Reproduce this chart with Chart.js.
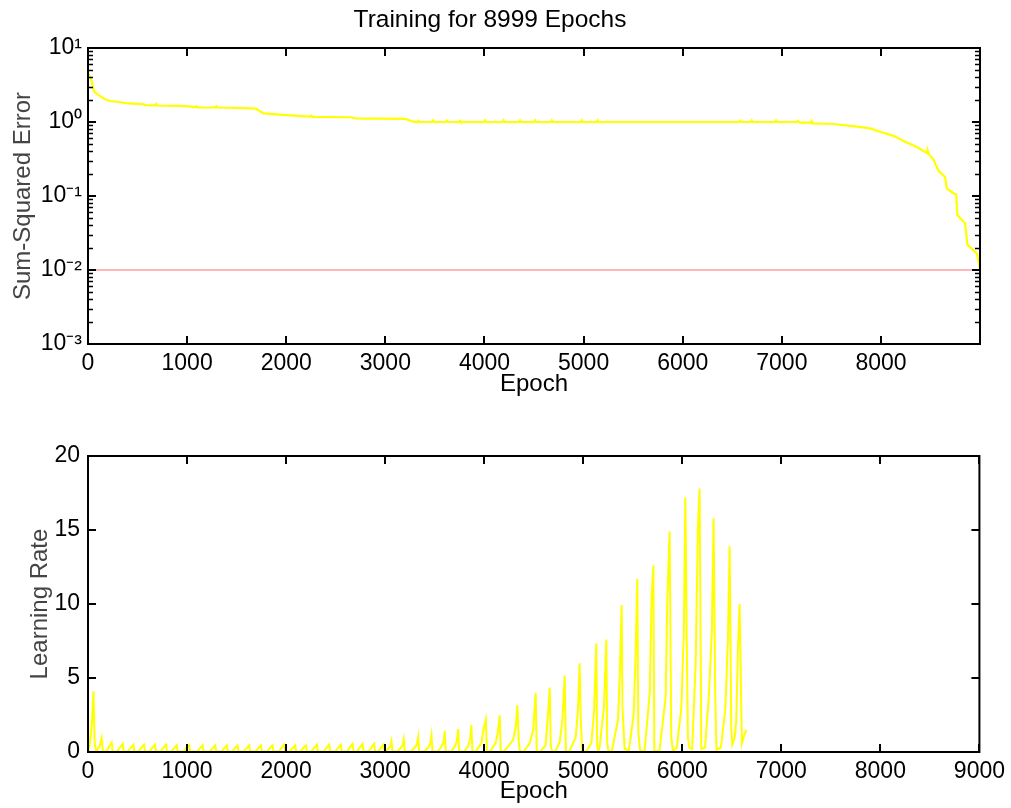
<!DOCTYPE html>
<html>
<head>
<meta charset="utf-8">
<title>Training for 8999 Epochs</title>
<script src="https://cdn.jsdelivr.net/npm/chart.js@4.4.0/dist/chart.umd.min.js"></script>
<style>
    body { margin: 0; background: #fff; }
    #wrap { position: relative; width: 1011px; height: 808px; }
    canvas { position: absolute; left: 0; }
</style>
</head>
<body>
<div id="wrap">
    <canvas id="errChart" width="1011" height="410" style="top:0px"></canvas>
    <canvas id="lrChart" width="1011" height="398" style="top:410px"></canvas>
</div>
<script>
// Sum-squared error per epoch
var sseEpoch = [0, 15, 40, 60, 90, 130, 170, 220, 330, 400, 560, 580, 680, 690, 700, 1000, 1080, 1095, 1110,
    1285, 1295, 1305, 1670, 1700, 1770, 1970, 2000, 2240, 2255, 2270, 2650, 2700, 3200, 3283,
    3323, 3333, 3343, 3474, 3484, 3494, 3609, 3619, 3629, 3743, 3753, 3763, 3995, 4005, 4015,
    4181, 4191, 4201, 4349, 4359, 4369, 4500, 4510, 4520, 4669, 4679, 4689, 4971, 4981, 4991,
    5132, 5142, 5152, 6569, 6579, 6589, 6687, 6697, 6707, 6932, 6942, 6952, 7151, 7161, 7184,
    7292, 7302, 7310, 7520, 7756, 7890, 7991, 8126, 8244, 8362, 8463, 8470, 8480, 8530, 8580,
    8647, 8664, 8731, 8758, 8771, 8849, 8872, 8967, 8999];
var sseValue = [4.6, 4.2, 3.5, 2.6, 2.4, 2.2, 2.05, 1.92, 1.85, 1.78, 1.74, 1.69, 1.68, 1.75, 1.67, 1.64, 1.58, 1.64, 1.58,
    1.57, 1.63, 1.57, 1.53, 1.5, 1.31, 1.25, 1.24, 1.18, 1.22, 1.17, 1.16, 1.12, 1.1, 1.01,
    1.0, 1.04, 1.0, 1.0, 1.05, 1.0, 1.0, 1.04, 1.0, 1.0, 1.04, 1.0, 1.0, 1.05, 1.0,
    1.0, 1.05, 1.0, 1.0, 1.05, 1.0, 1.0, 1.05, 1.0, 1.0, 1.05, 1.0, 1.0, 1.05, 1.0,
    1.0, 1.05, 1.0, 1.0, 1.04, 1.0, 1.0, 1.05, 1.0, 1.0, 1.05, 1.0, 1.0, 1.04, 0.98,
    0.98, 1.03, 0.96, 0.94, 0.865, 0.82, 0.74, 0.65, 0.54, 0.46, 0.38, 0.42, 0.37, 0.31, 0.22,
    0.18, 0.127, 0.109, 0.105, 0.055, 0.043, 0.022, 0.0167, 0.0104];

// error goal
var goalEpoch = [0, 8999];
var goalValue = [0.01, 0.01];

// Learning rate per epoch
var lrEpoch = [0, 15, 38, 55, 68, 85, 118, 138, 150,
    184, 214, 239, 249,  295, 325, 350, 360,  403, 433, 458, 468,  510, 540, 565, 575,
    621, 651, 676, 686,  732, 762, 787, 797,  840, 870, 895, 905,  967, 997, 1022, 1032,
    1102, 1132, 1157, 1167,  1230, 1260, 1285, 1295,  1347, 1377, 1402, 1412,  1455, 1485, 1510, 1520,
    1573, 1603, 1628, 1638,  1691, 1721, 1746, 1756,  1808, 1838, 1863, 1873,  1926, 1956, 1981, 1991,
    2037, 2067, 2092, 2102,  2145, 2175, 2200, 2210,  2256, 2286, 2311, 2321,  2380, 2410, 2435, 2445,
    2498, 2528, 2553, 2563,  2616, 2646, 2671, 2681,  2717, 2747, 2772, 2782,  2834, 2864, 2889, 2899,
    2930, 2960, 2985, 2995,  3030, 3052, 3064, 3074,
    3120, 3155, 3176, 3188, 3198,  3260, 3300, 3320, 3333, 3343,  3395, 3435, 3455, 3468, 3478,
    3530, 3568, 3590, 3602, 3612,  3665, 3703, 3725, 3737, 3747,  3800, 3838, 3859, 3871, 3881,
    3915, 3972, 3995, 4016, 4028,  4060, 4115, 4140, 4157, 4167,
    4200, 4292, 4319, 4335, 4349, 4360,  4400, 4460, 4495, 4520, 4530,
    4570, 4620, 4645, 4662, 4672, 4685,  4720, 4763, 4790, 4813, 4825,
    4860, 4924, 4947, 4964, 4975, 4990,  5030, 5082, 5109, 5132, 5140, 5150,
    5165, 5183, 5210, 5233, 5242, 5255,  5290, 5317, 5351, 5368, 5388, 5396, 5418,
    5460, 5509, 5529, 5546, 5556, 5575,  5620, 5671, 5691, 5708, 5718,
    5770, 5832, 5849, 5872, 5889, 5906,  5945, 5990, 6016, 6031, 6047, 6057, 6070,
    6100, 6135, 6158, 6175, 6192,  6230, 6269, 6299, 6316, 6333, 6345,
    6390, 6434, 6461, 6478, 6495, 6505,  6530, 6545, 6562, 6579, 6602, 6620, 6646];
var lrRate = [0.95, 0.45, 1.8, 4.1, 0.5, 0.05, 0.4, 0.95, 0.05,
    0.04, 0.38, 0.65, 0.04,  0.04, 0.33, 0.55, 0.04,  0.04, 0.3, 0.5, 0.04,  0.04, 0.3, 0.5, 0.04,
    0.04, 0.3, 0.5, 0.04,  0.04, 0.3, 0.5, 0.04,  0.04, 0.27, 0.45, 0.04,  0.04, 0.27, 0.45, 0.04,
    0.04, 0.27, 0.45, 0.04,  0.04, 0.27, 0.45, 0.04,  0.04, 0.27, 0.45, 0.04,  0.04, 0.27, 0.45, 0.04,
    0.04, 0.27, 0.45, 0.04,  0.04, 0.27, 0.45, 0.04,  0.04, 0.27, 0.45, 0.04,  0.04, 0.3, 0.5, 0.04,
    0.04, 0.27, 0.45, 0.04,  0.04, 0.27, 0.45, 0.04,  0.04, 0.3, 0.5, 0.04,  0.04, 0.3, 0.5, 0.04,
    0.04, 0.3, 0.5, 0.04,  0.04, 0.33, 0.55, 0.04,  0.04, 0.33, 0.55, 0.04,  0.04, 0.33, 0.55, 0.04,
    0.04, 0.3, 0.5, 0.04,  0.2, 0.4, 0.75, 0.04,
    0.04, 0.25, 0.45, 0.86, 0.04,  0.04, 0.3, 0.5, 1.0, 0.04,  0.04, 0.3, 0.55, 1.13, 0.04,
    0.04, 0.35, 0.7, 1.42, 0.04,  0.04, 0.35, 0.75, 1.55, 0.04,  0.04, 0.4, 0.9, 1.82, 0.04,
    0.04, 0.6, 1.6, 2.2, 0.04,  0.04, 0.6, 1.4, 2.48, 0.04,
    0.04, 0.8, 1.7, 3.15, 0.7, 0.04,  0.04, 0.6, 1.5, 4.0, 0.04,
    0.04, 0.45, 2.6, 4.35, 0.45, 0.04,  0.04, 0.7, 2.16, 5.16, 0.04,
    0.04, 1.0, 2.84, 6.0, 2.36, 0.04,  0.04, 0.6, 2.7, 7.34, 0.5, 0.04,
    0.3, 1.47, 3.06, 7.6, 0.6, 0.04,  0.1, 1.03, 2.16, 5.1, 9.93, 3.06, 0.2,
    0.1, 2.5, 6.67, 11.7, 1.35, 0.04,  0.1, 3.96, 10.5, 12.6, 0.04,
    0.1, 3.7, 10.2, 14.9, 1.0, 0.04,  0.3, 2.95, 8.1, 17.2, 6.4, 1.0, 0.3,
    0.2, 5.9, 15.2, 17.8, 0.2,  0.3, 3.85, 8.2, 15.8, 3.8, 0.15,
    0.3, 2.84, 7.57, 13.9, 1.6, 0.5,  1.0, 2.16, 6.9, 10.0, 0.58, 1.0, 1.5];

// tick values and labels
var epochTicksTop = [0, 1000, 2000, 3000, 4000, 5000, 6000, 7000, 8000];
var epochTicksBottom = [0, 1000, 2000, 3000, 4000, 5000, 6000, 7000, 8000, 9000];
var sseTicks = [0.001, 0.01, 0.1, 1, 10];
var sseTickLabels = ['10\u207B\u00B3', '10\u207B\u00B2', '10\u207B\u00B9', '10\u2070', '10\u00B9'];
var lrTicks = [0, 5, 10, 15, 20];

Chart.defaults.font.family = "'Liberation Sans', Arial, Helvetica, sans-serif";
Chart.defaults.color = '#000';

function toPoints(xs, ys) {
    return xs.map(function(x, i) { return { x: x, y: ys[i] }; });
}

// plain numbers, no thousands separator
function plainLabel(v) {
    return String(v);
}

// draws the black box round the plot with inward ticks on all four sides
var boxTicks = {
    id: 'boxTicks',
    afterDatasetsDraw: function(chart) {
        var ctx = chart.ctx, a = chart.chartArea;
        var xs = chart.scales.x, ys = chart.scales.y;
        ctx.save();
        ctx.strokeStyle = '#000';
        ctx.lineWidth = 2;
        ctx.beginPath();
        xs.ticks.forEach(function(t) {
            var px = Math.round(xs.getPixelForValue(t.value));
            ctx.moveTo(px, a.bottom); ctx.lineTo(px, a.bottom - 8);
            ctx.moveTo(px, a.top); ctx.lineTo(px, a.top + 8);
        });
        ys.ticks.forEach(function(t) {
            var py = Math.round(ys.getPixelForValue(t.value));
            ctx.moveTo(a.left, py); ctx.lineTo(a.left + 8, py);
            ctx.moveTo(a.right, py); ctx.lineTo(a.right - 8, py);
        });
        ctx.stroke();
        // minor ticks for the log axis
        if (ys.type === 'logarithmic') {
            ctx.lineWidth = 1.5;
            ctx.beginPath();
            for (var d = 0; d < sseTicks.length - 1; d++) {
                for (var k = 2; k <= 9; k++) {
                    var py = Math.round(ys.getPixelForValue(sseTicks[d] * k)) + 0.5;
                    ctx.moveTo(a.left, py); ctx.lineTo(a.left + 5, py);
                    ctx.moveTo(a.right, py); ctx.lineTo(a.right - 5, py);
                }
            }
            ctx.stroke();
        }
        ctx.lineWidth = 2;
        ctx.strokeRect(a.left, a.top, a.right - a.left, a.bottom - a.top);
        ctx.restore();
    }
};

// Top chart: error
var errCtx = document.getElementById('errChart').getContext('2d');
var errChart = new Chart(errCtx, {
    type: 'line',
    data: {
        datasets: [{
            label: 'Goal',
            data: toPoints(goalEpoch, goalValue),
            borderColor: '#ffb8b8',
            borderWidth: 2,
            pointRadius: 0
        }, {
            label: 'Sum-Squared Error',
            data: toPoints(sseEpoch, sseValue),
            borderColor: '#ffff00',
            borderWidth: 2.2,
            pointRadius: 0
        }]
    },
    options: {
        responsive: false,
        animation: false,
        layout: { padding: { left: 0, right: 31, top: 0, bottom: 0 } },
        plugins: {
            legend: { display: false },
            tooltip: { enabled: false },
            title: {
                display: true,
                text: 'Training for 8999 Epochs',
                color: '#000',
                font: { size: 24.5, weight: 'normal' },
                padding: { top: 6, bottom: 12.6 }
            }
        },
        scales: {
            x: {
                type: 'linear', min: 0, max: 8999,
                afterBuildTicks: function(s) { s.ticks = epochTicksTop.map(function(v) { return { value: v }; }); },
                afterFit: function(s) { s.height = 66; },
                grid: { display: false, drawTicks: false },
                border: { display: false },
                ticks: { font: { size: 23 }, color: '#000', padding: 6, maxRotation: 0, autoSkip: false, callback: plainLabel },
                title: { display: true, text: 'Epoch', color: '#000', font: { size: 24 }, padding: { top: 0, bottom: 11.6 } }
            },
            y: {
                type: 'logarithmic', min: 0.001, max: 10,
                afterBuildTicks: function(s) { s.ticks = sseTicks.map(function(v) { return { value: v }; }); },
                afterFit: function(s) { s.width = 88; },
                grid: { display: false, drawTicks: false },
                border: { display: false },
                ticks: {
                    font: { size: 23 }, color: '#000', padding: 6, autoSkip: false,
                    callback: function(v, i) { return sseTickLabels[i]; }
                },
                title: { display: true, text: 'Sum-Squared Error', color: '#444', font: { size: 24 }, padding: { top: 8.6, bottom: 0 } }
            }
        }
    },
    plugins: [boxTicks]
});

// Bottom chart: learning rate
var lrCtx = document.getElementById('lrChart').getContext('2d');
var lrChart = new Chart(lrCtx, {
    type: 'line',
    data: {
        datasets: [{
            label: 'Learning Rate',
            data: toPoints(lrEpoch, lrRate),
            borderColor: '#ffff00',
            borderWidth: 2,
            pointRadius: 0
        }]
    },
    options: {
        responsive: false,
        animation: false,
        layout: { padding: { left: 0, right: 31, top: 46, bottom: 0 } },
        plugins: {
            legend: { display: false },
            tooltip: { enabled: false }
        },
        scales: {
            x: {
                type: 'linear', min: 0, max: 9000,
                afterBuildTicks: function(s) { s.ticks = epochTicksBottom.map(function(v) { return { value: v }; }); },
                afterFit: function(s) { s.height = 56; },
                grid: { display: false, drawTicks: false },
                border: { display: false },
                ticks: { font: { size: 23 }, color: '#000', padding: 6, maxRotation: 0, autoSkip: false, callback: plainLabel },
                title: { display: true, text: 'Epoch', color: '#000', font: { size: 24 }, padding: { top: 0, bottom: 2.1 } }
            },
            y: {
                type: 'linear', min: 0, max: 20,
                afterBuildTicks: function(s) { s.ticks = lrTicks.map(function(v) { return { value: v }; }); },
                afterFit: function(s) { s.width = 88; },
                grid: { display: false, drawTicks: false },
                border: { display: false },
                ticks: { font: { size: 23 }, color: '#000', padding: 8, autoSkip: false, callback: plainLabel },
                title: { display: true, text: 'Learning Rate', color: '#444', font: { size: 24 }, padding: { top: 25.6, bottom: 0 } }
            }
        }
    },
    plugins: [boxTicks]
});
</script>
</body>
</html>
